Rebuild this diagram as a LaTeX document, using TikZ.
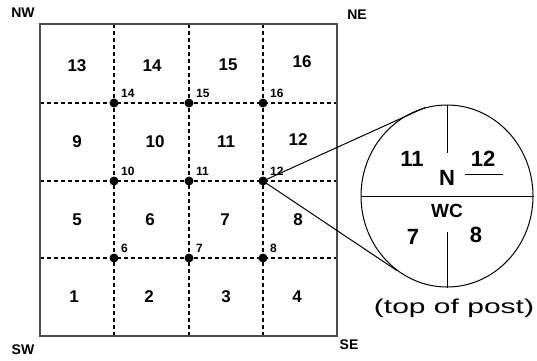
\documentclass[tikz,border=0pt]{standalone}
\usepackage{fontspec}
\setmainfont{Liberation Sans}
\usetikzlibrary{shapes.geometric}
\begin{document}
\begin{tikzpicture}[x=1pt,y=-1pt,
  grid/.style={line width=2pt,dash pattern=on 4pt off 3pt},
  dot/.style={circle,fill=black,inner sep=0pt,minimum size=9pt},
  cellnum/.style={font=\fontsize{17}{17}\selectfont\bfseries,inner sep=0pt},
  ptnum/.style={font=\fontsize{12}{12}\selectfont\bfseries,inner sep=0pt,anchor=south west},
  corner/.style={font=\fontsize{14}{14}\selectfont\bfseries,inner sep=0pt},
  big/.style={font=\fontsize{22}{22}\selectfont\bfseries,inner sep=0pt},
  thinline/.style={line width=1pt}]
\useasboundingbox (0,0) rectangle (537,360);
% grid lines
\foreach \x in {114,189,263} \draw[grid] (\x,24) -- (\x,336);
\foreach \y in {103,181,258} \draw[grid] (40,\y) -- (337,\y);
\draw[line width=1.2pt,black!70] (40,24) rectangle (337,336);
% corner labels
\node[corner] (nw) at (23,13) {NW};
\node[corner] (ne) at (357,15) {NE};
\node[corner] (sw) at (23,350) {SW};
\node[corner] (se) at (349,345) {SE};
% cell numbers
\node[cellnum] (c13) at (77,66) {13};
\node[cellnum] (c14) at (152,66) {14};
\node[cellnum] (c15) at (228,65) {15};
\node[cellnum] (c16) at (302,62) {16};
\node[cellnum] (c9) at (77,142) {9};
\node[cellnum] (c10) at (155,142) {10};
\node[cellnum] (c11) at (226,142) {11};
\node[cellnum] (c12) at (298,140) {12};
\node[cellnum] (c5) at (77,220) {5};
\node[cellnum] (c6) at (150,220) {6};
\node[cellnum] (c7) at (225,220) {7};
\node[cellnum] (c8) at (298,220) {8};
\node[cellnum] (c1) at (74,297) {1};
\node[cellnum] (c2) at (149,297) {2};
\node[cellnum] (c3) at (226,297) {3};
\node[cellnum] (c4) at (297,297) {4};
% posts
\node[dot] (p14) at (114,103) {};
\node[dot] (p15) at (189,103) {};
\node[dot] (p16) at (263,103) {};
\node[dot] (p10) at (114,181) {};
\node[dot] (p11) at (189,181) {};
\node[dot] (p12) at (263,181) {};
\node[dot] (p6) at (114,258) {};
\node[dot] (p7) at (189,258) {};
\node[dot] (p8) at (263,258) {};
\foreach \n in {14,15,16,10,11,12,6,7,8}
  \node[ptnum] (l\n) at ([xshift=7pt,yshift=5pt]p\n.center) {\n};
% magnified post top
\node[ellipse,draw,thinline,minimum width=172pt,minimum height=182pt,inner sep=0pt] (c) at (447,196) {};
\coordinate (vtop) at (447,153);
\coordinate (vbot) at (447,232);
\draw[thinline] (c.west) -- (c.east);
\draw[thinline] (c.north) -- (vtop);
\draw[thinline] (vbot) -- (c.south);
\draw[thinline] (p12.center) -- (c.104);
\draw[thinline] (p12.center) -- (c.236);
\node[big] (m11) at (412,159) {11};
\node[big] (m12) at (483,159) {12};
\coordinate (u1) at (465,174);
\coordinate (u2) at (503,174);
\draw[thinline] (u1) -- (u2);
\node[big] (mn) at (447,178) {N};
\node[font=\fontsize{19}{19}\selectfont\bfseries,inner sep=0pt] (wc) at (447,211) {WC};
\node[big] (m7) at (413,237) {7};
\node[big] (m8) at (476,235) {8};
\node[font=\fontsize{20}{20}\selectfont,inner sep=0pt] (cap) at (454,308) {\scalebox{1.5}[1]{(top of post)}};
\end{tikzpicture}
\end{document}
